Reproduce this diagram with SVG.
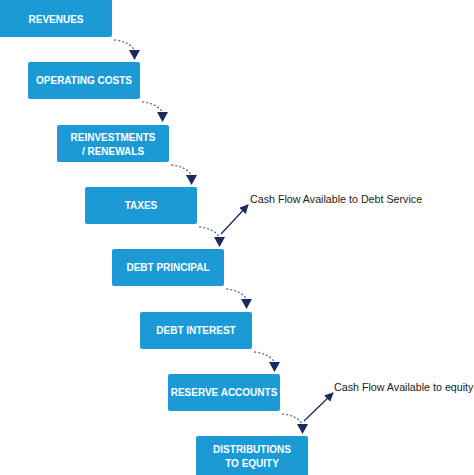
<svg xmlns="http://www.w3.org/2000/svg" width="474" height="475" viewBox="0 0 474 475">
<defs>
<style>
.box{fill:#1b9ad6;}
.lbl{font-family:"Liberation Sans",Arial,sans-serif;font-weight:bold;font-size:10px;fill:#ffffff;text-anchor:middle;}
.dot{fill:none;stroke:#4a5a80;stroke-width:1.2;stroke-dasharray:2 2;}
.head{fill:#1a2a5c;}
.cf{stroke:#1a2a5c;stroke-width:1.3;fill:none;marker-end:url(#ah);}
.note{font-family:"Liberation Sans",Arial,sans-serif;font-size:10.7px;fill:#222222;}
</style>
<marker id="ah" viewBox="0 0 10 10" refX="9" refY="5" markerWidth="9" markerHeight="9" markerUnits="userSpaceOnUse" orient="auto">
<path d="M0,0 L10,5 L0,10 Z" fill="#1a2a5c"/>
</marker>
</defs>
<rect width="474" height="475" fill="#ffffff"/>
<g id="n1"><rect class="box" x="-3" y="-3" width="115" height="40" rx="2"/><text class="lbl" x="56" y="23">REVENUES</text></g>
<g id="n2"><rect class="box" x="28" y="62" width="112" height="37" rx="2"/><text class="lbl" x="84" y="84">OPERATING COSTS</text></g>
<g id="n3"><rect class="box" x="57" y="125" width="112" height="37" rx="2"/><text class="lbl" x="113" y="141">REINVESTMENTS</text><text class="lbl" x="113" y="155">/ RENEWALS</text></g>
<g id="n4"><rect class="box" x="85" y="187" width="112" height="37" rx="2"/><text class="lbl" x="141" y="209">TAXES</text></g>
<g id="n5"><rect class="box" x="112" y="249" width="112" height="37" rx="2"/><text class="lbl" x="168" y="271">DEBT PRINCIPAL</text></g>
<g id="n6"><rect class="box" x="140" y="312" width="112" height="37" rx="2"/><text class="lbl" x="196" y="334">DEBT INTEREST</text></g>
<g id="n7"><rect class="box" x="168" y="374" width="112" height="37" rx="2"/><text class="lbl" x="224" y="396">RESERVE ACCOUNTS</text></g>
<g id="n8"><rect class="box" x="196" y="436" width="112" height="42" rx="2"/><text class="lbl" x="252" y="453">DISTRIBUTIONS</text><text class="lbl" x="252" y="467">TO EQUITY</text></g>
<g id="connectors">
<path class="dot" d="M114 40 Q128 41 134.5 50"/><polygon class="head" points="129,50 140,50 134.5,60"/>
<path class="dot" d="M142 102 Q156 103 162.5 112"/><polygon class="head" points="157,112 168,112 162.5,122"/>
<path class="dot" d="M171 165 Q185 166 191.5 175"/><polygon class="head" points="186,175 197,175 191.5,185"/>
<path class="dot" d="M199 227 Q213 228 219.5 237"/><polygon class="head" points="214,237 225,237 219.5,247"/>
<path class="dot" d="M226 289 Q240 290 246.5 299"/><polygon class="head" points="241,299 252,299 246.5,309"/>
<path class="dot" d="M254 352 Q268 353 274.5 362"/><polygon class="head" points="269,362 280,362 274.5,372"/>
<path class="dot" d="M282 414 Q296 415 302.5 424"/><polygon class="head" points="297,424 308,424 302.5,434"/>
<line class="cf" x1="221" y1="234" x2="248" y2="205"/>
<line class="cf" x1="304" y1="421" x2="333" y2="393"/>
</g>
<text class="note" x="250" y="203">Cash Flow Available to Debt Service</text>
<text class="note" x="334" y="391">Cash Flow Available to equity</text>
</svg>
